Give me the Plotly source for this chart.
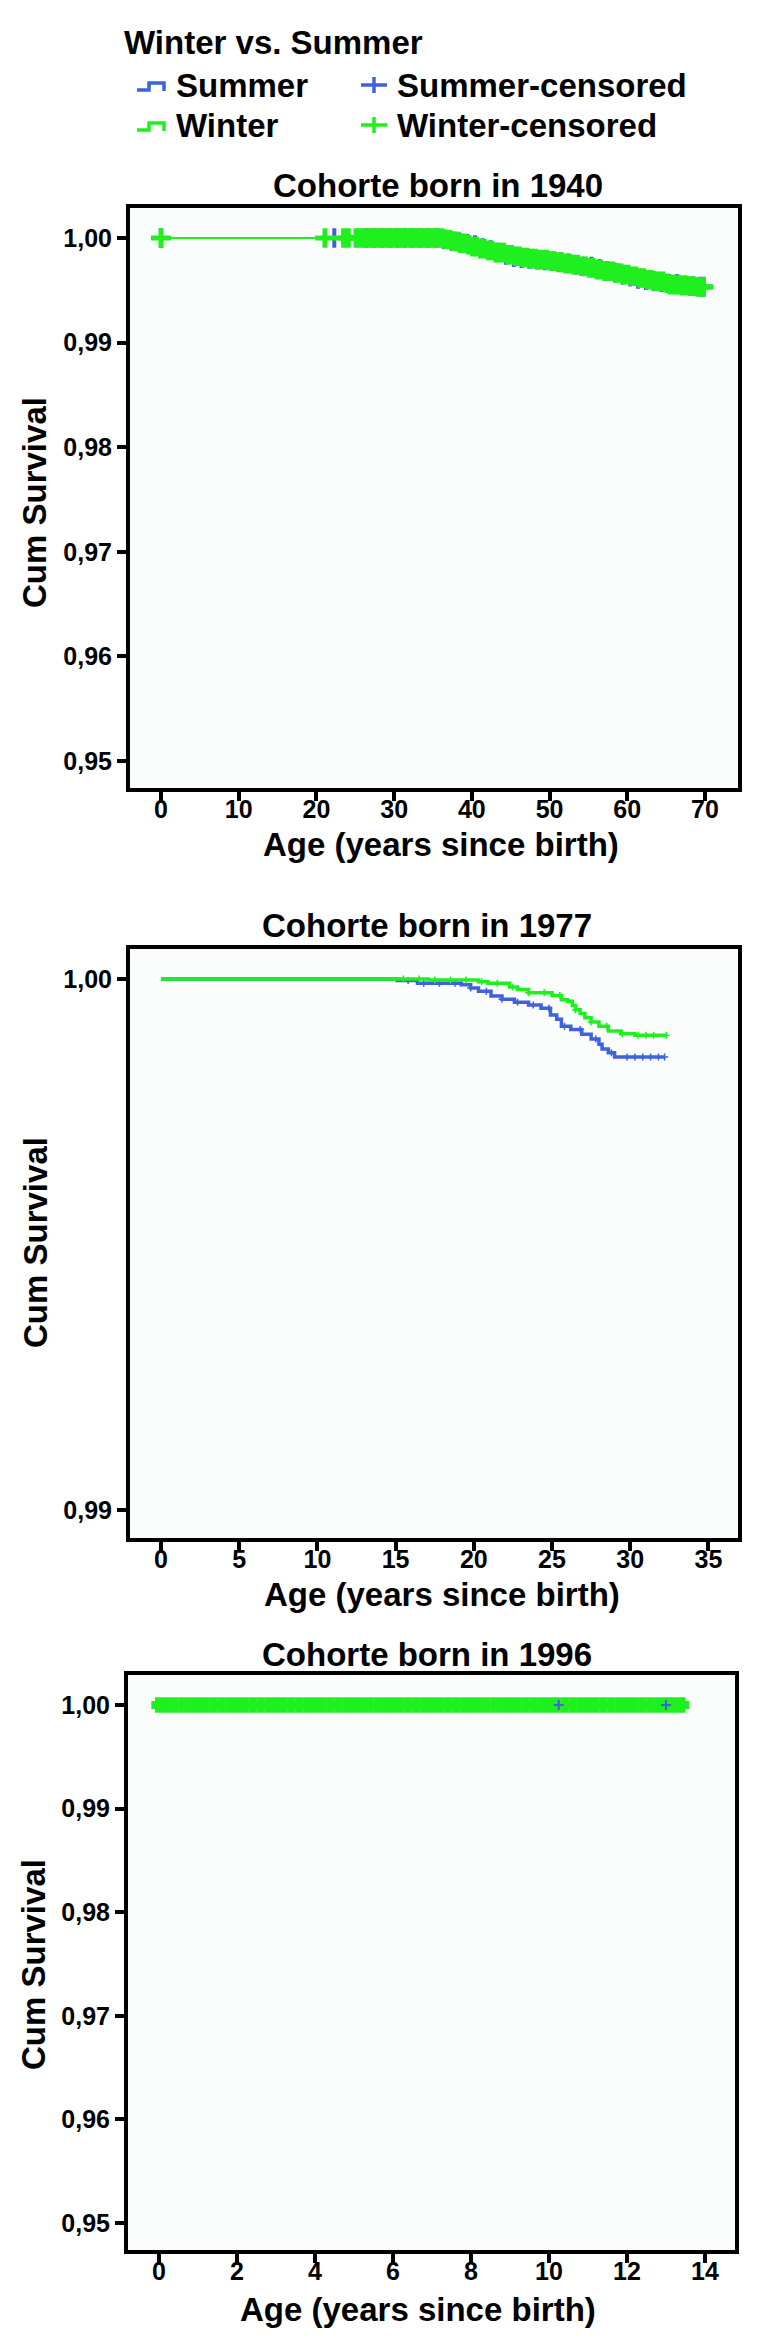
import numpy as np
import plotly.graph_objects as go

W, H = 757, 2343

# ------------------------------------------------------------------ data
panel_titles = ["Cohorte born in 1940", "Cohorte born in 1977", "Cohorte born in 1996"]
legend_title = "Winter vs. Summer"
group_names = ["Summer", "Winter"]
x_title = "Age (years since birth)"
y_title = "Cum Survival"

# Cohort 1940
summer_1940_age = [0.0, 36.3, 37.1, 38.0, 38.9, 39.8, 40.7, 41.6, 42.6, 43.6, 44.6, 45.6, 46.7,
                   47.8, 48.9, 50.0, 51.1, 52.2, 53.3, 54.4, 55.5, 56.6, 57.7, 58.8, 59.9, 61.0,
                   62.1, 63.2, 64.3, 65.4, 66.5, 67.6, 68.7, 69.8]
summer_1940_surv = [1.0, 0.99988, 0.99972, 0.99958, 0.99945, 0.99932, 0.99905, 0.99884, 0.99862,
                    0.99838, 0.99816, 0.99806, 0.99800, 0.99792, 0.99786, 0.99778, 0.99770,
                    0.99758, 0.99742, 0.99728, 0.99706, 0.99686, 0.99668, 0.99650, 0.99630,
                    0.99608, 0.99596, 0.99588, 0.99578, 0.99562, 0.99548, 0.99540, 0.99535,
                    0.99535]
winter_1940_age = [0.0, 36.6, 37.4, 38.3, 39.2, 40.1, 41.0, 42.0, 43.1, 44.2, 45.3, 46.5, 47.6,
                   48.5, 49.7, 50.8, 51.9, 52.8, 53.9, 55.0, 56.1, 57.1, 58.2, 59.3, 60.4, 61.4,
                   62.5, 63.6, 64.7, 65.6, 66.8, 67.9, 69.1, 69.8]
winter_1940_surv = [1.0, 0.99985, 0.99968, 0.99950, 0.99935, 0.99918, 0.99898, 0.99880, 0.99860,
                    0.99840, 0.99826, 0.99814, 0.99803, 0.99793, 0.99780, 0.99767, 0.99755,
                    0.99745, 0.99730, 0.99714, 0.99698, 0.99682, 0.99666, 0.99650, 0.99634,
                    0.99618, 0.99601, 0.99585, 0.99568, 0.99554, 0.99545, 0.99538, 0.99532,
                    0.99532]
summer_1940_censored = [0.0, 22.3, 26.4, 27.4, 28.4, 29.4, 30.4, 31.4, 32.4, 33.4, 34.4, 35.4,
                        36.4, 37.4, 38.4, 39.4, 40.4, 41.4, 42.4, 43.4, 44.4, 45.4, 46.4, 47.4,
                        48.4, 49.4, 50.4, 51.4, 52.4, 53.4, 54.4, 55.4, 56.4, 57.4, 58.4, 59.4,
                        60.4, 61.4, 62.4, 63.4, 64.4, 65.4, 66.4, 67.4, 68.4, 69.4, 69.8]
winter_1940_censored = [0.0, 21.1, 23.5, 24.1, 25.1,
                        25.6, 26.1, 26.6, 27.1, 27.6, 28.1, 28.6, 29.1, 29.6, 30.1,
                        30.6, 31.1, 31.6, 32.1, 32.6, 33.1, 33.6, 34.1, 34.6, 35.1,
                        35.6, 36.1, 36.6, 37.1, 37.6, 38.1, 38.6, 39.1, 39.6, 40.1,
                        40.6, 41.1, 41.6, 42.1, 42.6, 43.1, 43.6, 44.1, 44.6, 45.1,
                        45.6, 46.1, 46.6, 47.1, 47.6, 48.1, 48.6, 49.1, 49.6, 50.1,
                        50.6, 51.1, 51.6, 52.1, 52.6, 53.1, 53.6, 54.1, 54.6, 55.1,
                        55.6, 56.1, 56.6, 57.1, 57.6, 58.1, 58.6, 59.1, 59.6, 60.1,
                        60.6, 61.1, 61.6, 62.1, 62.6, 63.1, 63.6, 64.1, 64.6, 65.1,
                        65.6, 66.1, 66.6, 67.1, 67.6, 68.1, 68.6, 69.1, 69.6, 69.8]

# Cohort 1977
summer_1977_age = [0.0, 15.1, 16.4, 19.2, 19.8, 20.3, 21.1, 21.8, 22.6, 23.5, 24.3, 24.9, 25.3,
                   25.6, 26.2, 26.9, 27.5, 28.0, 28.2, 28.6, 29.0, 32.2]
summer_1977_surv = [1.0, 0.99997, 0.99992, 0.99989, 0.99983, 0.99977, 0.99968, 0.99962, 0.99956,
                    0.99951, 0.99945, 0.99932, 0.99924, 0.99911, 0.99905, 0.99896, 0.99887,
                    0.99877, 0.99868, 0.99861, 0.99853, 0.99853]
winter_1977_age = [0.0, 17.1, 20.3, 20.9, 22.3, 22.8, 23.5, 25.0, 25.6, 26.0, 26.3, 26.5, 26.8,
                   27.1, 27.5, 28.0, 28.6, 29.4, 30.3, 32.3]
winter_1977_surv = [1.0, 0.99998, 0.99995, 0.99992, 0.99985, 0.99980, 0.99974, 0.99969, 0.99961,
                    0.99958, 0.99950, 0.99942, 0.99935, 0.99927, 0.99919, 0.99911, 0.99902,
                    0.99897, 0.99894, 0.99894]
summer_1977_censored = [15.8, 16.8, 17.8, 18.8, 19.8, 20.8, 21.8, 22.8, 23.8, 24.8, 25.8, 26.8,
                        27.8, 28.8, 29.8, 30.3, 30.8, 31.3, 31.8, 32.2]
winter_1977_censored = [15.5, 16.5, 17.5, 18.5, 19.5, 20.5, 21.5, 22.5, 23.5, 24.5, 25.5, 26.5,
                        27.5, 28.5, 29.5, 30.5, 31.0, 31.5, 32.3]

# Cohort 1996
summer_1996_age = [0.0, 13.1]
summer_1996_surv = [1.0, 1.0]
winter_1996_age = [0.0, 13.4]
winter_1996_surv = [1.0, 1.0]
summer_1996_censored = [10.25, 13.0]
winter_1996_censored = [0.0, 0.2, 0.4, 0.6, 0.8, 1.0, 1.2, 1.4, 1.6, 1.8, 2.0, 2.2, 2.4, 2.6,
                        2.8, 3.0, 3.2, 3.4, 3.6, 3.8, 4.0, 4.2, 4.4, 4.6, 4.8, 5.0, 5.2, 5.4,
                        5.6, 5.8, 6.0, 6.2, 6.4, 6.6, 6.8, 7.0, 7.2, 7.4, 7.6, 7.8, 8.0, 8.2,
                        8.4, 8.6, 8.8, 9.0, 9.2, 9.4, 9.6, 9.8, 10.0, 10.2, 10.4, 10.6, 10.8,
                        11.0, 11.2, 11.4, 11.6, 11.8, 12.0, 12.2, 12.4, 12.6, 12.8, 13.0, 13.2,
                        13.4]

x_ticks_1940 = [0, 10, 20, 30, 40, 50, 60, 70]
y_ticks_1940 = [0.95, 0.96, 0.97, 0.98, 0.99, 1.00]
x_ticks_1977 = [0, 5, 10, 15, 20, 25, 30, 35]
y_ticks_1977 = [0.99, 1.00]
x_ticks_1996 = [0, 2, 4, 6, 8, 10, 12, 14]
y_ticks_1996 = [0.95, 0.96, 0.97, 0.98, 0.99, 1.00]

# ------------------------------------------------------------------ style
BLUE = "#3d62dc"
GREEN = "#1fef1f"
FONT = "Liberation Sans, Arial, Helvetica, sans-serif"
PLOT_BG = "#fbfdfc"
BIG = 33


def px(x):
    return x / W


def py(y):
    return 1 - y / H


def surv_at(ages, surv, times):
    a = np.asarray(ages)
    s = np.asarray(surv)
    idx = np.searchsorted(a, np.asarray(times), side="right") - 1
    idx = np.clip(idx, 0, len(s) - 1)
    return s[idx]


panels = [
    dict(sa=summer_1940_age, ss=summer_1940_surv, wa=winter_1940_age, ws=winter_1940_surv,
         sc=summer_1940_censored, wc=winter_1940_censored, xt=x_ticks_1940, yt=y_ticks_1940,
         xr=[-3.99, 74.25], yr=[0.947419, 1.002868], xd=[122, 730], yd=[200, 780],
         lw=2, ms=14, mw=5, sms=14, smw=4, summer_on_top=False,
         title_xy=(430, 178), xt_xy=(433, 836), yt_xy=(27, 495)),
    dict(sa=summer_1977_age, ss=summer_1977_surv, wa=winter_1977_age, ws=winter_1977_surv,
         sc=summer_1977_censored, wc=winter_1977_censored, xt=x_ticks_1977, yt=y_ticks_1977,
         xr=[-1.98, 36.89], yr=[0.989473, 1.000565], xd=[122, 730], yd=[941, 1530],
         lw=3.5, ms=5, mw=1.5, sms=5, smw=1.5, summer_on_top=False,
         title_xy=(419, 918), xt_xy=(434, 1586), yt_xy=(27, 1235)),
    dict(sa=summer_1996_age, ss=summer_1996_surv, wa=winter_1996_age, ws=winter_1996_surv,
         sc=summer_1996_censored, wc=winter_1996_censored, xt=x_ticks_1996, yt=y_ticks_1996,
         xr=[-0.795, 14.77], yr=[0.947394, 1.002896], xd=[120, 727], yd=[1667, 2242],
         lw=2, ms=11, mw=8, sms=7, smw=2, summer_on_top=True,
         title_xy=(419, 1646), xt_xy=(410, 2301), yt_xy=(25, 1957)),
]

fig = go.Figure()
annotations = []
big = dict(family=FONT, size=BIG, color="black", weight="bold")

for i, p in enumerate(panels):
    xa = "x" if i == 0 else f"x{i+1}"
    ya = "y" if i == 0 else f"y{i+1}"
    s_line = go.Scatter(x=p["sa"], y=p["ss"], mode="lines", line=dict(color=BLUE, width=p["lw"], shape="hv"),
                        xaxis=xa, yaxis=ya, name=group_names[0], hoverinfo="skip")
    s_cens = go.Scatter(x=p["sc"], y=surv_at(p["sa"], p["ss"], p["sc"]), mode="markers",
                        marker=dict(symbol="cross-thin", size=p["sms"], line=dict(color=BLUE, width=p["smw"])),
                        xaxis=xa, yaxis=ya, name=group_names[0] + "-censored", hoverinfo="skip")
    w_line = go.Scatter(x=p["wa"], y=p["ws"], mode="lines", line=dict(color=GREEN, width=p["lw"], shape="hv"),
                        xaxis=xa, yaxis=ya, name=group_names[1], hoverinfo="skip")
    w_cens = go.Scatter(x=p["wc"], y=surv_at(p["wa"], p["ws"], p["wc"]), mode="markers",
                        marker=dict(symbol="cross-thin", size=p["ms"], line=dict(color=GREEN, width=p["mw"])),
                        xaxis=xa, yaxis=ya, name=group_names[1] + "-censored", hoverinfo="skip")
    if p["summer_on_top"]:
        order = [s_line, w_line, w_cens, s_cens]
    else:
        order = [s_line, s_cens, w_line, w_cens]
    for tr in order:
        fig.add_trace(tr)

    common = dict(showline=True, linecolor="black", linewidth=4, mirror=True, ticks="outside",
                  ticklen=9, tickwidth=4, tickcolor="black", showgrid=False, zeroline=False,
                  tickfont=dict(family=FONT, size=25, color="black", weight="bold"), fixedrange=True)
    xkey = "xaxis" if i == 0 else f"xaxis{i+1}"
    ykey = "yaxis" if i == 0 else f"yaxis{i+1}"
    fig.update_layout(**{
        xkey: dict(common, domain=[px(p["xd"][0]), px(p["xd"][1])], range=p["xr"],
                   tickvals=p["xt"], anchor=ya, ticklabelstandoff=-13),
        ykey: dict(common, domain=[py(p["yd"][1]), py(p["yd"][0])], range=p["yr"],
                   tickvals=p["yt"], tickformat=".2f", anchor=xa),
    })

    tx, ty = p["title_xy"]
    annotations.append(dict(text=panel_titles[i], x=px(tx), y=py(ty), xref="paper", yref="paper",
                            xanchor="center", yanchor="middle", showarrow=False, font=big))
    tx, ty = p["xt_xy"]
    annotations.append(dict(text=x_title, x=px(tx), y=py(ty), xref="paper", yref="paper",
                            xanchor="center", yanchor="middle", showarrow=False, font=big))
    tx, ty = p["yt_xy"]
    annotations.append(dict(text=y_title, x=px(tx), y=py(ty), xref="paper", yref="paper",
                            xanchor="center", yanchor="middle", showarrow=False, font=big,
                            textangle=-90))

# ------------------------------------------------------------------ legend (drawn by hand)
annotations.append(dict(text=legend_title, x=px(114), y=py(34), xref="paper", yref="paper",
                        xanchor="left", yanchor="middle", showarrow=False, font=big))
legend_rows = [(group_names[0], BLUE, 77), (group_names[1], GREEN, 117)]
shapes = []
for name, col, yc in legend_rows:
    annotations.append(dict(text=name, x=px(166), y=py(yc), xref="paper", yref="paper",
                            xanchor="left", yanchor="middle", showarrow=False, font=big))
    annotations.append(dict(text=name + "-censored", x=px(387), y=py(yc), xref="paper", yref="paper",
                            xanchor="left", yanchor="middle", showarrow=False, font=big))
    # step glyph
    path = (f"M {px(129)},{py(yc + 5)} L {px(141)},{py(yc + 5)} L {px(141)},{py(yc - 2)} "
            f"L {px(156)},{py(yc - 2)} L {px(156)},{py(yc + 6)}")
    shapes.append(dict(type="path", path=path, xref="paper", yref="paper",
                       line=dict(color=col, width=3.5)))
    # cross glyph
    shapes.append(dict(type="line", xref="paper", yref="paper", x0=px(353), x1=px(379),
                       y0=py(yc), y1=py(yc), line=dict(color=col, width=3.5)))
    shapes.append(dict(type="line", xref="paper", yref="paper", x0=px(366), x1=px(366),
                       y0=py(yc - 8), y1=py(yc + 8), line=dict(color=col, width=3.5)))

fig.update_layout(width=W, height=H, margin=dict(l=0, r=0, t=0, b=0),
                  paper_bgcolor="white", plot_bgcolor=PLOT_BG, showlegend=False,
                  separators=",.", annotations=annotations, shapes=shapes)

fig.write_html("out.html")
